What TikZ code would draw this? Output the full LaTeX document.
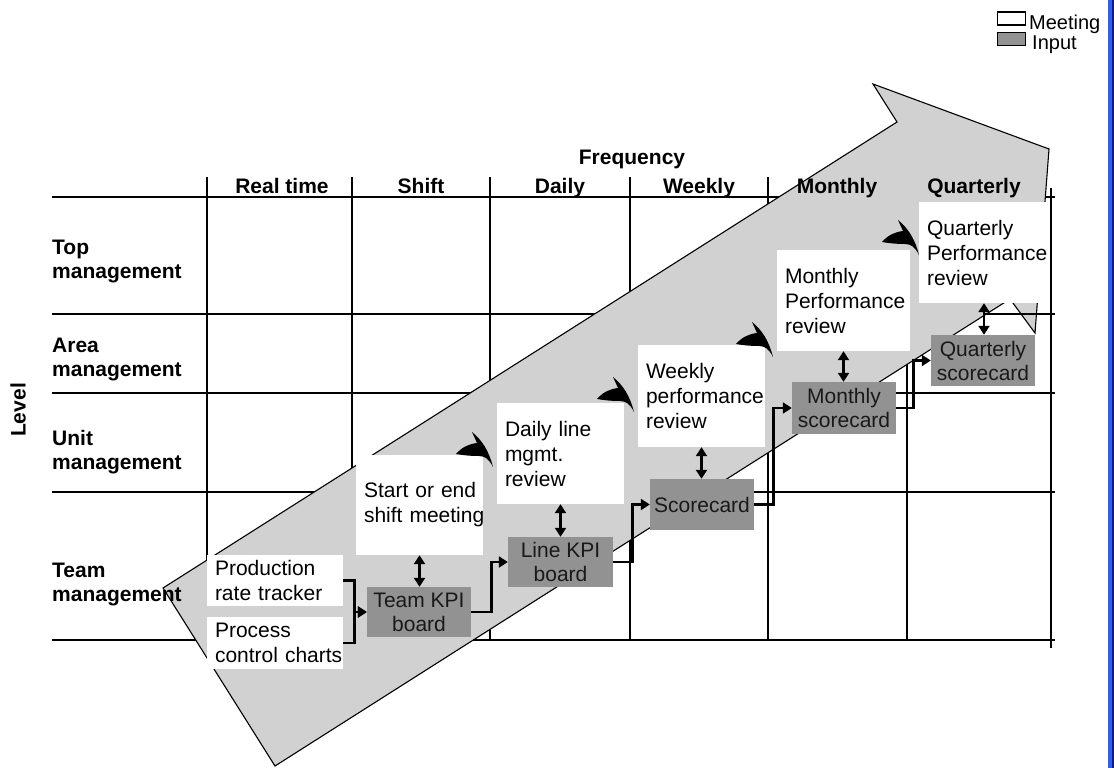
\documentclass[tikz,border=0pt]{standalone}
\usepackage{fontspec}
\setmainfont{Liberation Sans}
\usetikzlibrary{arrows.meta}
\definecolor{arrowfill}{RGB}{209,209,209}
\definecolor{inputfill}{RGB}{146,146,146}
\definecolor{edgeblue}{RGB}{45,95,245}
\definecolor{edgenavy}{RGB}{20,30,110}

\begin{document}
\begin{tikzpicture}[x=1pt,y=-1pt,
  gridline/.style={line width=1.7pt, black},
  hdr/.style={font=\fontsize{21}{25}\selectfont\bfseries, inner sep=0pt},
  rowlbl/.style={font=\fontsize{21}{24}\selectfont\bfseries, inner sep=0pt, align=left, anchor=north west},
  meetbox/.style={fill=white, inner xsep=0pt, inner ysep=0pt, font=\fontsize{21}{25}\selectfont,
    execute at begin node={\leftskip=8pt\rightskip=0pt plus 1fil\parindent=0pt\hyphenpenalty=10000\exhyphenpenalty=10000\hfuzz=20pt\relax}},
  inbox/.style={fill=inputfill, inner sep=0pt, align=center, font=\fontsize{21}{24}\selectfont, text=black!90},
  link/.style={line width=2.6pt, -{Triangle[length=9pt,width=11pt]}},
  twoway/.style={line width=2.6pt, {Triangle[length=9pt,width=11pt]}-{Triangle[length=9pt,width=11pt]}},
  legtext/.style={font=\fontsize{20}{20}\selectfont, inner sep=0pt, anchor=base west}
]
\useasboundingbox (0,0) rectangle (1114,768);
\fill[white] (0,0) rectangle (1114,768);

% right-hand frame edge
\fill[edgeblue] (1107.5,0) rectangle (1111.5,768);
\fill[edgenavy] (1111.5,0) rectangle (1114,768);

% grid of levels and frequencies
\foreach \yy in {197,314,393,492,640}
  \draw[gridline] (52,\yy) -- (1055,\yy);
\foreach \xx in {207,352,490,630,768,907}
  \draw[gridline] (\xx,177) -- (\xx,640);
\draw[gridline] (1051,188) -- (1051,648);

% big progression arrow
\filldraw[fill=arrowfill, draw=black, line width=1.1pt]
  (163,588) -- (897,122) -- (873,84) -- (1049,149) -- (1035,333)
  -- (1010,299) -- (275,766) -- cycle;
\draw[gridline] (984,314) -- (1055,314);

% column headings
\node[hdr, anchor=base] (freq) at (632,164) {Frequency};
\node[hdr, anchor=base] (hreal) at (282,193) {Real time};
\node[hdr, anchor=base] (hshift) at (421,193) {Shift};
\node[hdr, anchor=base] (hdaily) at (560,193) {Daily};
\node[hdr, anchor=base] (hweekly) at (699,193) {Weekly};
\node[hdr, anchor=base] (hmonthly) at (837,193) {Monthly};
\node[hdr, anchor=base] (hquarterly) at (974,193) {Quarterly};

% row headings
\node[rowlbl] (rtop) at (52,240) {Top\\management};
\node[rowlbl] (rarea) at (52,338) {Area\\management};
\node[rowlbl] (runit) at (52,430) {Unit\\management};
\node[rowlbl] (rteam) at (52,563) {Team\\management};
\node[hdr, rotate=90] (level) at (18,410) {Level};

% meetings
\node[meetbox, text width=127pt, minimum height=100pt] (start) at (419.5,505) {Start~or~end\\shift~meeting};
\node[meetbox, text width=127pt, minimum height=101pt] (daily) at (560.5,453.5) {Daily~line\\mgmt.\\review};
\node[meetbox, text width=127pt, minimum height=102pt] (weekly) at (701.5,396) {Weekly\\performance\\review};
\node[meetbox, text width=133pt, minimum height=101pt] (monthly) at (843.5,300.5) {Monthly\\Performance\\review};
\node[meetbox, text width=130pt, minimum height=101pt] (quarterly) at (984,252.5) {Quarterly\\Performance\\review};
\node[meetbox, text width=136pt, minimum height=51pt] (prod) at (275,580.5) {Production\\rate~tracker};
\node[meetbox, text width=136pt, minimum height=52pt] (proc) at (275,643) {Process\\control~charts};

% inputs
\node[inbox, minimum width=104pt, minimum height=50pt] (team) at (419,612) {Team KPI\\board};
\node[inbox, minimum width=105pt, minimum height=50pt] (linekpi) at (560.5,562) {Line KPI\\board};
\node[inbox, minimum width=104pt, minimum height=51pt] (score) at (702,504.5) {Scorecard};
\node[inbox, minimum width=104pt, minimum height=52pt] (msc) at (844,408) {Monthly\\scorecard};
\node[inbox, minimum width=104pt, minimum height=51pt] (qsc) at (983,360.5) {Quarterly\\scorecard};

% meeting <-> input
\draw[twoway] (start.south) -- (start.south |- team.north);
\draw[twoway] (daily.south) -- (daily.south |- linekpi.north);
\draw[twoway] (weekly.south) -- (weekly.south |- score.north);
\draw[twoway] (monthly.south) -- (monthly.south |- msc.north);
\draw[twoway] (quarterly.south) -- (quarterly.south |- qsc.north);

% input chain
\draw[link] (prod.east) -- ++(11,0) |- (team.west);
\draw[link] (proc.east) -- ++(11,0) |- (team.west);
\draw[link] (team.east) -- ++(20,0) |- (linekpi.west);
\draw[link] (linekpi.east) -- ++(19,0) |- (score.west);
\draw[link] (score.east) -- ++(19,0) |- (msc.west);
\draw[link] (msc.east) -- ++(17,0) |- (qsc.west);

% curved arrow heads leading to the next meeting
\foreach \tx/\ty in {493/467, 634/412, 773/357, 919/255}{
  \begin{scope}[shift={(\tx,\ty)}]
    \fill[black] (-37,-13) .. controls (-31,-20) and (-24,-23) .. (-16,-24)
      -- (-21,-35) .. controls (-11,-27) and (-4,-16) .. (0,0)
      .. controls (-4,-8) and (-8,-11) .. (-14,-11)
      .. controls (-24,-11) and (-31,-12) .. cycle;
  \end{scope}
}

% legend
\node[draw=black, line width=1.3pt, fill=white, minimum width=28pt, minimum height=13pt, inner sep=0pt] (legm) at (1011.5,18.5) {};
\node[draw=black, line width=1.3pt, fill=inputfill, minimum width=28pt, minimum height=13.5pt, inner sep=0pt] (legi) at (1011.5,39) {};
\node[legtext] (legmt) at (1029,30) {Meeting};
\node[legtext] (legit) at (1032,50) {Input};
\end{tikzpicture}
\end{document}
